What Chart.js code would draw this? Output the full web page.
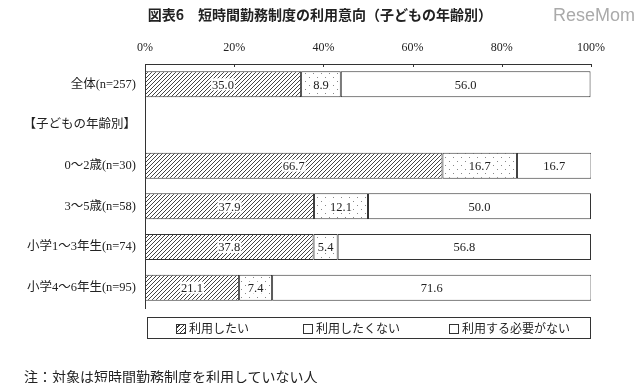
<!DOCTYPE html>
<html>
<head>
<meta charset="utf-8">
<script src="https://cdn.jsdelivr.net/npm/chart.js@4"></script>
<style>
  body { margin: 0; background: #fff; }
  #wrap { position: relative; width: 640px; height: 383px; overflow: hidden; }
  #chart { position: absolute; left: 0; top: 0; }
  .txt { position: absolute; white-space: nowrap; color: #222; font-family: 'Noto Sans CJK JP', sans-serif; }
  #title { left: 0; width: 640px; top: 4px; text-align: center; font-size: 14px; font-weight: bold; line-height: 20px; }
  #logo { left: 553px; top: 4px; font-family: 'Liberation Sans', sans-serif; font-size: 18px; color: #aaa; line-height: 22px; }
  #legend { position: absolute; left: 147px; top: 317px; width: 442px; height: 20px; border: 1px solid #333; }
  .item { position: absolute; top: 0; font-size: 12px; line-height: 20px; font-family: 'Noto Sans CJK JP', sans-serif; color: #222; white-space: nowrap; }
  .mark { display: inline-block; width: 8px; height: 8px; border: 1px solid #333; margin-right: 3px; vertical-align: -1px; background: #fff; }
  .hatch { background: repeating-linear-gradient(-45deg, #333 0 1px, #fff 1px 3px); }
  #note { left: 24px; top: 366px; font-size: 14px; line-height: 20px; }
</style>
</head>
<body>
<div id="wrap">
  <canvas id="chart" width="640" height="383"></canvas>
  <div class="txt" id="title">図表6　短時間勤務制度の利用意向（子どもの年齢別）</div>
  <div class="txt" id="logo">ReseMom</div>
  <div id="legend"></div>
  <div class="txt" id="note">注：対象は短時間勤務制度を利用していない人</div>
</div>
<script>
// data
const categories = ['全体(n=257)', '【子どもの年齢別】', '0～2歳(n=30)', '3～5歳(n=58)', '小学1～3年生(n=74)', '小学4～6年生(n=95)'];
const seriesNames = ['利用したい', '利用したくない', '利用する必要がない'];
const wantToUse = [35.0, null, 66.7, 37.9, 37.8, 21.1];
const doNotWant = [8.9, null, 16.7, 12.1, 5.4, 7.4];
const noNeed = [56.0, null, 16.7, 50.0, 56.8, 71.6];
const tickValues = [0, 20, 40, 60, 80, 100];

// fill patterns
function hatchPattern() {
  const c = document.createElement('canvas');
  c.width = 4; c.height = 4;
  const g = c.getContext('2d');
  g.fillStyle = '#fff';
  g.fillRect(0, 0, 4, 4);
  g.strokeStyle = '#444';
  g.lineWidth = 1;
  g.beginPath();
  g.moveTo(0, 4); g.lineTo(4, 0);
  g.moveTo(-1, 1); g.lineTo(1, -1);
  g.moveTo(3, 5); g.lineTo(5, 3);
  g.stroke();
  return g.createPattern(c, 'repeat');
}

function dotPattern() {
  const c = document.createElement('canvas');
  c.width = 8; c.height = 8;
  const g = c.getContext('2d');
  g.fillStyle = '#fff';
  g.fillRect(0, 0, 8, 8);
  g.fillStyle = '#888';
  g.fillRect(1, 1, 1, 1);
  g.fillRect(5, 5, 1, 1);
  return g.createPattern(c, 'repeat');
}

const fills = [hatchPattern(), dotPattern(), '#fff'];
const seriesData = [wantToUse, doNotWant, noNeed];

// legend
const legendBox = document.getElementById('legend');
const legendX = [28, 155, 301];
seriesNames.forEach((name, i) => {
  const item = document.createElement('div');
  item.className = 'item';
  item.style.left = legendX[i] + 'px';
  item.innerHTML = '<span class="mark' + (i === 0 ? ' hatch' : '') + '"></span>' + name;
  legendBox.appendChild(item);
});

// value labels in the middle of each segment
const valueLabels = {
  id: 'valueLabels',
  afterDatasetsDraw(chart) {
    const ctx = chart.ctx;
    ctx.save();
    ctx.font = "12.5px 'Liberation Serif', serif";
    ctx.textAlign = 'center';
    ctx.textBaseline = 'middle';
    chart.data.datasets.forEach((ds, di) => {
      const meta = chart.getDatasetMeta(di);
      meta.data.forEach((bar, i) => {
        const v = ds.data[i];
        if (v == null) return;
        const x = (bar.x + bar.base) / 2;
        const y = bar.y;
        const t = v.toFixed(1);
        if (di < 2) {
          const w = ctx.measureText(t).width + 2;
          ctx.fillStyle = '#fff';
          ctx.fillRect(x - w / 2, y - 6, w, 12);
        }
        ctx.fillStyle = '#222';
        ctx.fillText(t, x, y + 1);
      });
    });
    ctx.restore();
  }
};

// small tick marks pointing down from the top axis
const innerTicks = {
  id: 'innerTicks',
  afterDraw(chart) {
    const ctx = chart.ctx;
    const xs = chart.scales.x;
    const top = chart.chartArea.top;
    ctx.save();
    ctx.strokeStyle = '#333';
    ctx.lineWidth = 1;
    tickValues.forEach(v => {
      const px = Math.round(xs.getPixelForValue(v)) + 0.5;
      ctx.beginPath();
      ctx.moveTo(px, top);
      ctx.lineTo(px, top + 3);
      ctx.stroke();
    });
    ctx.restore();
  }
};

new Chart(document.getElementById('chart'), {
  type: 'bar',
  data: {
    labels: categories,
    datasets: seriesNames.map((name, i) => ({
      label: name,
      data: seriesData[i],
      backgroundColor: fills[i],
      borderColor: '#333',
      borderWidth: 1,
      borderSkipped: false,
      barPercentage: 0.64,
      categoryPercentage: 1
    }))
  },
  options: {
    indexAxis: 'y',
    responsive: false,
    animation: false,
    events: [],
    layout: { padding: { top: 0, left: 0, right: 49, bottom: 75 } },
    plugins: {
      legend: { display: false },
      title: { display: false },
      tooltip: { enabled: false }
    },
    scales: {
      x: {
        position: 'top',
        stacked: true,
        min: 0,
        max: 100,
        afterFit(scale) { scale.height = 64; },
        afterBuildTicks(scale) { scale.ticks = tickValues.map(v => ({ value: v })); },
        grid: { display: false, drawTicks: false },
        border: { display: true, color: '#333', width: 1 },
        ticks: {
          padding: 9,
          color: '#222',
          font: { family: "'Liberation Serif', serif", size: 12 },
          callback: v => v + '%'
        }
      },
      y: {
        stacked: true,
        afterFit(scale) { scale.width = 145; },
        grid: { display: false, drawTicks: false },
        border: { display: true, color: '#333', width: 1 },
        ticks: {
          padding: 9,
          color: '#222',
          font: { family: "'Liberation Serif', 'Noto Sans CJK JP', serif", size: 12.5 }
        }
      }
    }
  },
  plugins: [valueLabels, innerTicks]
});
</script>
</body>
</html>
